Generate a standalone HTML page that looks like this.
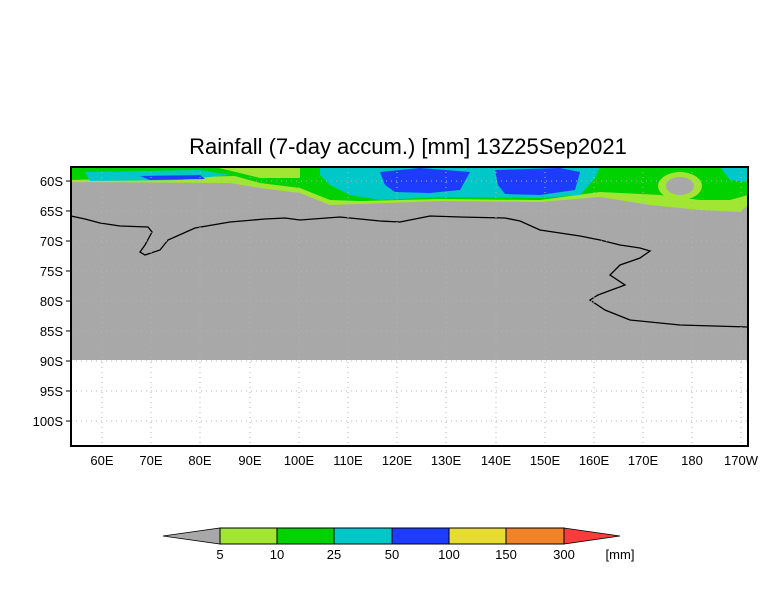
<!DOCTYPE html>
<html><head><style>body{margin:0;background:#fff}svg{display:block}text{font-family:"Liberation Sans",sans-serif}</style></head>
<body>
<svg width="784" height="612" viewBox="0 0 784 612" xmlns="http://www.w3.org/2000/svg">
<rect width="784" height="612" fill="#fff"/>
<text x="408" y="154" font-size="22" text-anchor="middle" fill="#000">Rainfall (7-day accum.) [mm] 13Z25Sep2021</text>
<rect x="71" y="167" width="677" height="193" fill="#a8a8a8"/>
<polygon fill="#a0e632" points="71,167 748,167 748,205 740,212 700,210 650,205 600,197 540,202 440,201 360,204 330,205 300,193 260,188 230,183 71,182"/>
<polygon fill="#00d200" points="71,167 748,167 748,195 730,200 700,200 660,195 600,192 540,200 440,199 360,201 330,200 300,188 260,183 235,176 71,180"/>
<polygon fill="#a0e632" points="215,167 300,167 300,178 260,178"/>
<ellipse cx="680" cy="186" rx="22" ry="14" fill="#a0e632"/>
<ellipse cx="680" cy="186" rx="14" ry="9" fill="#a8a8a8"/>
<polygon fill="#00c8c8" points="320,167 600,167 595,178 580,195 540,198 440,197 380,200 350,195 330,185 320,175"/>
<polygon fill="#00c8c8" points="720,167 748,167 748,182 730,180"/>
<polygon fill="#00c8c8" points="85,172 200,170 230,175 180,180 90,181"/>
<polygon fill="#1e3cff" points="380,172 420,168 470,172 460,190 430,193 395,192 385,185"/>
<polygon fill="#1e3cff" points="495,170 560,168 580,172 575,190 540,195 505,194 498,185"/>
<polygon fill="#1e3cff" points="140,176 200,175 205,179 150,180"/>
<polyline fill="none" stroke="#000" stroke-width="1.3" points="71,216 85,219 100,223 120,226 148,227 152,232 145,245 140,252 145,255 160,250 168,240 195,228 230,222 265,219 285,218 300,220 340,217 380,221 400,222 430,216 460,217 505,218 520,221 540,230 560,233 580,236 600,240 620,245 640,248 650,251 640,258 620,265 610,275 625,285 598,295 590,300 605,310 630,320 680,325 748,327"/>
<g stroke="#b4b4b4" stroke-dasharray="1,4" stroke-width="1">
<line x1="71" x2="748" y1="181" y2="181"/><line x1="71" x2="748" y1="211" y2="211"/><line x1="71" x2="748" y1="241" y2="241"/><line x1="71" x2="748" y1="271" y2="271"/><line x1="71" x2="748" y1="301" y2="301"/><line x1="71" x2="748" y1="331" y2="331"/><line x1="71" x2="748" y1="361" y2="361"/><line x1="71" x2="748" y1="391" y2="391"/><line x1="71" x2="748" y1="421" y2="421"/>
<line y1="167" y2="446" x1="102" x2="102"/><line y1="167" y2="446" x1="151" x2="151"/><line y1="167" y2="446" x1="200" x2="200"/><line y1="167" y2="446" x1="250" x2="250"/><line y1="167" y2="446" x1="299" x2="299"/><line y1="167" y2="446" x1="348" x2="348"/><line y1="167" y2="446" x1="397" x2="397"/><line y1="167" y2="446" x1="446" x2="446"/><line y1="167" y2="446" x1="496" x2="496"/><line y1="167" y2="446" x1="545" x2="545"/><line y1="167" y2="446" x1="594" x2="594"/><line y1="167" y2="446" x1="643" x2="643"/><line y1="167" y2="446" x1="692" x2="692"/><line y1="167" y2="446" x1="741" x2="741"/>
</g>
<rect x="71" y="167" width="677" height="279" fill="none" stroke="#000" stroke-width="2"/>
<g stroke="#000">
<line x1="66" x2="71" y1="181" y2="181"/><line x1="66" x2="71" y1="211" y2="211"/><line x1="66" x2="71" y1="241" y2="241"/><line x1="66" x2="71" y1="271" y2="271"/><line x1="66" x2="71" y1="301" y2="301"/><line x1="66" x2="71" y1="331" y2="331"/><line x1="66" x2="71" y1="361" y2="361"/><line x1="66" x2="71" y1="391" y2="391"/><line x1="66" x2="71" y1="421" y2="421"/>
</g>
<g font-size="13" text-anchor="end" fill="#000">
<text x="63" y="186">60S</text><text x="63" y="216">65S</text><text x="63" y="246">70S</text><text x="63" y="276">75S</text><text x="63" y="306">80S</text><text x="63" y="336">85S</text><text x="63" y="366">90S</text><text x="63" y="396">95S</text><text x="63" y="426">100S</text>
</g>
<g font-size="13" text-anchor="middle" fill="#000">
<text x="102" y="465">60E</text><text x="151" y="465">70E</text><text x="200" y="465">80E</text><text x="250" y="465">90E</text><text x="299" y="465">100E</text><text x="348" y="465">110E</text><text x="397" y="465">120E</text><text x="446" y="465">130E</text><text x="496" y="465">140E</text><text x="545" y="465">150E</text><text x="594" y="465">160E</text><text x="643" y="465">170E</text><text x="692" y="465">180</text><text x="741" y="465">170W</text>
</g>
<polygon points="163,536 220,528 220,544" fill="#a8a8a8" stroke="#000" stroke-width="0.8"/>
<rect x="220" y="528" width="57" height="16" fill="#a0e632"/>
<rect x="277" y="528" width="57" height="16" fill="#00d200"/>
<rect x="334" y="528" width="58" height="16" fill="#00c8c8"/>
<rect x="392" y="528" width="57" height="16" fill="#1e3cff"/>
<rect x="449" y="528" width="57" height="16" fill="#e6dc32"/>
<rect x="506" y="528" width="58" height="16" fill="#f08228"/>
<polygon points="564,528 620,536 564,544" fill="#fa3c3c" stroke="#000" stroke-width="0.8"/>
<g stroke="#000" fill="none"><rect x="220" y="528" width="344" height="16"/>
<line x1="277" x2="277" y1="528" y2="544"/><line x1="334" x2="334" y1="528" y2="544"/><line x1="392" x2="392" y1="528" y2="544"/><line x1="449" x2="449" y1="528" y2="544"/><line x1="506" x2="506" y1="528" y2="544"/></g>
<g font-size="13" text-anchor="middle" fill="#000">
<text x="220" y="559">5</text><text x="277" y="559">10</text><text x="334" y="559">25</text><text x="392" y="559">50</text><text x="449" y="559">100</text><text x="506" y="559">150</text><text x="564" y="559">300</text><text x="620" y="559">[mm]</text>
</g>
</svg>
</body></html>
